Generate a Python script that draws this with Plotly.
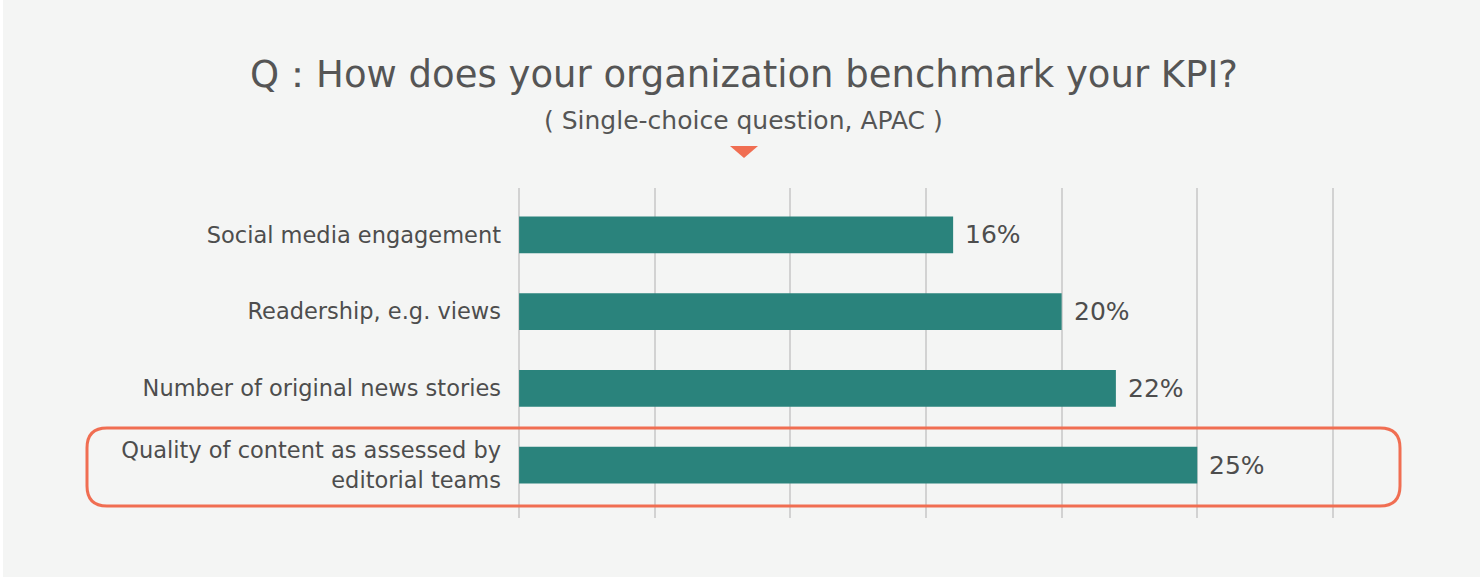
import plotly.graph_objects as go

categories = [
    "Social media engagement",
    "Readership, e.g. views",
    "Number of original news stories",
    "Quality of content as assessed by<br>editorial teams",
]
values = [16, 20, 22, 25]
value_labels = ["16%", "20%", "22%", "25%"]

W, H = 1483, 579
L, R, T, B = 518, 1483 - 1334, 188, 579 - 518
PW, PH = W - L - R, H - T - B

def px(x):
    return (x - L) / PW

def py(y):
    return (H - B - y) / PH

BG = "#f4f5f4"
TEAL = "#2a837c"
ORANGE = "#f06e52"
TEXT = "#4d4d4d"
FONT = "DejaVu Sans, Open Sans, sans-serif"

fig = go.Figure(go.Bar(
    x=values, y=categories, orientation="h",
    marker=dict(color=TEAL, line=dict(width=0)),
    width=0.48,
    cliponaxis=False,
))

# rounded highlight box around last row
x0, x1, y0, y1 = 87, 1400, 428, 506
r = 20
rx, ry = r / PW, r / PH
X0, X1, Y0, Y1 = px(x0), px(x1), py(y1), py(y0)
path = (f"M{X0+rx},{Y1} L{X1-rx},{Y1} Q{X1},{Y1} {X1},{Y1-ry} "
        f"L{X1},{Y0+ry} Q{X1},{Y0} {X1-rx},{Y0} L{X0+rx},{Y0} "
        f"Q{X0},{Y0} {X0},{Y0+ry} L{X0},{Y1-ry} Q{X0},{Y1} {X0+rx},{Y1} Z")

tri = f"M{px(730)},{py(146)} L{px(758)},{py(146)} L{px(744)},{py(158)} Z"

annotations = [
    dict(text="Q：How does your organization benchmark your KPI?", xref="paper", yref="paper",
         x=px(744), y=py(75), xanchor="center", yanchor="middle", showarrow=False,
         font=dict(size=37, color="#555555", family=FONT)),
    dict(text="( Single-choice question, APAC )", xref="paper", yref="paper",
         x=px(743), y=py(120), xanchor="center", yanchor="middle", showarrow=False,
         font=dict(size=25, color="#555555", family=FONT)),
]
for v, c, t in zip(values, categories, value_labels):
    annotations.append(dict(x=v, y=c, xref="x", yref="y", text=t, showarrow=False,
                            xanchor="left", yanchor="middle", xshift=10,
                            font=dict(size=25, color=TEXT, family=FONT)))

fig.update_layout(
    width=W, height=H,
    margin=dict(l=L, r=R, t=T, b=B, pad=0),
    paper_bgcolor="white",
    plot_bgcolor="rgba(0,0,0,0)",
    showlegend=False,
    font=dict(family=FONT, color=TEXT),
    xaxis=dict(range=[-0.04, 30.04], dtick=5, tick0=0, showgrid=True, gridcolor="#d2d2d2", gridwidth=2,
               zeroline=True, zerolinecolor="#d2d2d2", zerolinewidth=2,
               showticklabels=False, ticks="", fixedrange=True),
    yaxis=dict(categoryorder="array", categoryarray=categories, autorange=False,
               range=[3.69, -0.61], showgrid=False, zeroline=False, ticks="",
               ticklabelstandoff=16, fixedrange=True,
               tickfont=dict(size=22.5, color=TEXT, family=FONT)),
    shapes=[
        dict(type="rect", xref="paper", yref="paper", x0=px(3), x1=px(1480), y0=py(577), y1=py(0),
             fillcolor=BG, line=dict(width=0), layer="below"),
        dict(type="path", xref="paper", yref="paper", path=path,
             line=dict(color=ORANGE, width=3), fillcolor="rgba(0,0,0,0)", layer="above"),
        dict(type="path", xref="paper", yref="paper", path=tri,
             line=dict(width=0), fillcolor=ORANGE, layer="above"),
    ],
    annotations=annotations,
)

fig.write_html("out.html", config={"displayModeBar": False},
               post_script="document.body.style.margin='0';")
